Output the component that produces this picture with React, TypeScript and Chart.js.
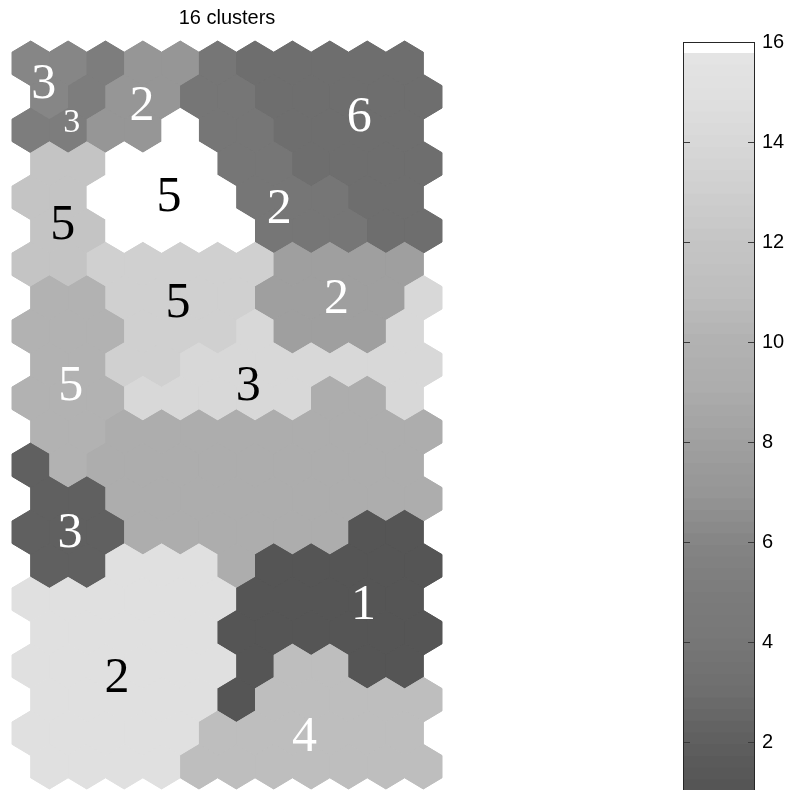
import React, { useEffect, useRef } from "react";
import { Chart, registerables } from "chart.js";

Chart.register(...registerables);

// ---- DATA ----
// Cluster letter of every map unit, row by row (11 units per row, odd rows shifted right by half a unit)
const MAP_ROWS = [
  "AABCCIHHHHH",
  "ABCCIIHHHHH",
  "BBCCWIIHHHH",
  "EEWWWIIHHHH",
  "EEWWWWIIIHH",
  "EEWWWWIIIHH",
  "EEFFFFFGGGG",
  "JJFFFFGGGGK",
  "JJJFFFKGGGK",
  "JJFFKKKKKKK",
  "JJJKKKKKLLK",
  "JJLLLLLLLLL",
  "MJLLLLLLLLL",
  "MMLLLLLLLLL",
  "MMMLLLLLLNN",
  "MMOOOLNNNNN",
  "OOOOOONNNNN",
  "OOOOONNNNNN",
  "OOOOOONPPNN",
  "OOOOONPPPPP",
  "OOOOOPPPPPP",
  "OOOOPPPPPPP",
];
// Cluster value (1..16) = position in this list + 1
const CLUSTER_KEYS = ["N", "M", "H", "I", "B", "A", "C", "G", "L", "J", "P", "E", "F", "K", "O", "W"];

// Numbers written on the map
const LABEL_TEXT = ["3", "3", "2", "6", "5", "2", "5", "5", "2", "5", "3", "3", "1", "2", "4"];
const LABEL_X = [0.35, 1.1, 2.98, 8.79, 3.7, 6.65, 0.86, 3.94, 8.18, 1.07, 5.82, 1.05, 8.9, 2.31, 7.32];
const LABEL_ROW = [0.54, 1.73, 1.19, 1.52, 3.91, 4.27, 4.75, 7.07, 6.96, 9.55, 9.55, 13.94, 16.09, 18.27, 20.03];
const LABEL_WHITE = [true, true, true, true, false, true, false, false, true, true, false, true, true, false, true];
const LABEL_SMALL = [false, true, false, false, false, false, false, false, false, false, false, false, false, false, false];

// Colorbar
const CB_MIN = 1;
const CB_MAX = 16;
const CB_TICKS = [2, 4, 6, 8, 10, 12, 14, 16];
const CB_LEVELS = 64;

const TITLE = "16 clusters";

// ---- colormap (style) ----
const GRAY_ANCHORS = [84, 95, 110, 119, 124, 133, 150, 160, 172, 178, 190, 197, 207, 216, 224, 230];

function grayAt(v: number): number {
  const t = Math.max(0, Math.min(GRAY_ANCHORS.length - 1, v - 1));
  const i = Math.min(GRAY_ANCHORS.length - 2, Math.floor(t));
  const f = t - i;
  return GRAY_ANCHORS[i] * (1 - f) + GRAY_ANCHORS[i + 1] * f;
}
function bandGray(k: number): number {
  if (k >= CB_LEVELS - 1) return 255;
  return grayAt(CB_MIN + ((k + 0.5) * (CB_MAX - CB_MIN)) / CB_LEVELS);
}
function bandOf(v: number): number {
  return Math.min(CB_LEVELS - 1, Math.floor(((v - CB_MIN) / (CB_MAX - CB_MIN)) * CB_LEVELS));
}
function grayCss(g: number): string {
  const n = Math.round(g);
  return `rgb(${n},${n},${n})`;
}
function valueColor(v: number): string {
  return grayCss(bandGray(bandOf(v)));
}

const SANS = '"Liberation Sans", Arial, Helvetica, sans-serif';
const SERIF = '"Liberation Serif", "Times New Roman", serif';

const HEX = [
  [0, -2 / 3],
  [0.5, -1 / 3],
  [0.5, 1 / 3],
  [0, 2 / 3],
  [-0.5, 1 / 3],
  [-0.5, -1 / 3],
];

export default function App() {
  const mapRef = useRef<HTMLCanvasElement | null>(null);
  const cbRef = useRef<HTMLCanvasElement | null>(null);

  useEffect(() => {
    const points: { x: number; y: number; v: number }[] = [];
    MAP_ROWS.forEach((row, r) => {
      row.split("").forEach((ch, c) => {
        points.push({ x: c + (r % 2 ? 0.5 : 0), y: r, v: CLUSTER_KEYS.indexOf(ch) + 1 });
      });
    });

    const hexPath = (ctx: any, xs: any, ys: any, p: any) => {
      ctx.beginPath();
      HEX.forEach(([dx, dy], i) => {
        const px = xs.getPixelForValue(p.x + dx);
        const py = ys.getPixelForValue(p.y + dy);
        if (i === 0) ctx.moveTo(px, py);
        else ctx.lineTo(px, py);
      });
      ctx.closePath();
    };

    const hexPlugin = {
      id: "hexes",
      beforeDatasetsDraw(chart: any) {
        const ctx = chart.ctx;
        const xs = chart.scales.x;
        const ys = chart.scales.y;
        const data = chart.data.datasets[0].data as any[];
        ctx.save();
        // pass 1: fill + thin stroke to close the seams between units
        for (const p of data) {
          const col = valueColor(p.v);
          hexPath(ctx, xs, ys, p);
          ctx.fillStyle = col;
          ctx.fill();
          ctx.strokeStyle = col;
          ctx.lineWidth = 1;
          ctx.stroke();
        }
        // pass 2: plain fills for crisp cluster borders
        for (const p of data) {
          hexPath(ctx, xs, ys, p);
          ctx.fillStyle = valueColor(p.v);
          ctx.fill();
        }
        ctx.restore();
      },
      afterDatasetsDraw(chart: any) {
        const ctx = chart.ctx;
        const xs = chart.scales.x;
        const ys = chart.scales.y;
        ctx.save();
        ctx.textAlign = "center";
        ctx.textBaseline = "alphabetic";
        LABEL_TEXT.forEach((t, i) => {
          const size = LABEL_SMALL[i] ? 34 : 50;
          ctx.font = `${size}px ${SERIF}`;
          ctx.fillStyle = LABEL_WHITE[i] ? "#ffffff" : "#000000";
          const px = xs.getPixelForValue(LABEL_X[i]);
          const py = ys.getPixelForValue(LABEL_ROW[i]);
          ctx.fillText(t, px, py + size * 0.33);
        });
        ctx.restore();
      },
    };

    const mapChart = new Chart(mapRef.current as HTMLCanvasElement, {
      type: "scatter",
      data: {
        datasets: [
          {
            data: points as any,
            pointRadius: 0,
            pointHoverRadius: 0,
            showLine: false,
          },
        ],
      },
      options: {
        animation: false,
        responsive: false,
        events: [],
        layout: { padding: { left: 12, right: 346, top: 0, bottom: 1 } },
        plugins: {
          legend: { display: false },
          tooltip: { enabled: false },
          title: {
            display: true,
            text: TITLE,
            color: "#000",
            font: { family: SANS, size: 20, weight: "normal" as any },
            padding: { top: 6, bottom: 11 },
          },
        },
        scales: {
          x: { type: "linear", min: -0.5, max: 11, display: false },
          y: { type: "linear", min: -2 / 3, max: 21 + 2 / 3, reverse: true, display: false },
        },
      },
      plugins: [hexPlugin],
    });

    const bands: number[] = [];
    for (let k = 0; k < CB_LEVELS; k++) bands.push(k);
    const step = (CB_MAX - CB_MIN) / CB_LEVELS;

    const cbPlugin = {
      id: "cbframe",
      afterDraw(chart: any) {
        const ctx = chart.ctx;
        const a = chart.chartArea;
        const ys = chart.scales.y;
        ctx.save();
        ctx.strokeStyle = "#3a3a3a";
        ctx.lineWidth = 1;
        ctx.beginPath();
        for (const v of CB_TICKS) {
          const py = Math.round(ys.getPixelForValue(v)) + 0.5;
          ctx.moveTo(a.left, py);
          ctx.lineTo(a.left + 7, py);
          ctx.moveTo(a.right - 7, py);
          ctx.lineTo(a.right, py);
        }
        ctx.stroke();
        ctx.strokeStyle = "#262626";
        ctx.strokeRect(
          Math.round(a.left) + 0.5,
          Math.round(a.top) + 0.5,
          Math.round(a.right - a.left) - 1,
          Math.round(a.bottom - a.top)
        );
        ctx.restore();
      },
    };

    const cbChart = new Chart(cbRef.current as HTMLCanvasElement, {
      type: "bar",
      data: {
        labels: ["cb"],
        datasets: bands.map((k) => ({
          data: [[CB_MIN + k * step, Math.min(CB_MAX, CB_MIN + (k + 1) * step + 0.01)]] as any,
          backgroundColor: grayCss(bandGray(k)),
          borderWidth: 0,
          grouped: false,
          barPercentage: 1,
          categoryPercentage: 1,
        })),
      },
      options: {
        animation: false,
        responsive: false,
        events: [],
        layout: { padding: { left: 683, right: 0, top: 42, bottom: 8 } },
        plugins: { legend: { display: false }, tooltip: { enabled: false }, title: { display: false } },
        scales: {
          x: { display: false },
          y: {
            type: "linear",
            position: "right",
            min: CB_MIN,
            max: CB_MAX,
            grid: { display: false, drawTicks: false, tickLength: 0 },
            border: { display: false },
            afterBuildTicks: (scale: any) => {
              scale.ticks = CB_TICKS.map((v) => ({ value: v }));
            },
            afterFit: (scale: any) => {
              scale.width = 33;
              scale.paddingTop = 0;
              scale.paddingBottom = 0;
            },
            ticks: {
              color: "#000",
              padding: 7,
              font: { family: SANS, size: 20 },
              callback: (v: any) => String(v),
            },
          },
        },
      },
      plugins: [cbPlugin],
    });

    return () => {
      mapChart.destroy();
      cbChart.destroy();
    };
  }, []);

  return (
    <div
      style={{
        position: "fixed",
        left: 0,
        top: 0,
        width: 788,
        height: 790,
        overflow: "hidden",
        background: "#ffffff",
      }}
    >
      <canvas ref={mapRef} width={788} height={790} style={{ position: "absolute", left: 0, top: 0, width: 788, height: 790 }} />
      <canvas ref={cbRef} width={788} height={800} style={{ position: "absolute", left: 0, top: 0, width: 788, height: 800 }} />
    </div>
  );
}
